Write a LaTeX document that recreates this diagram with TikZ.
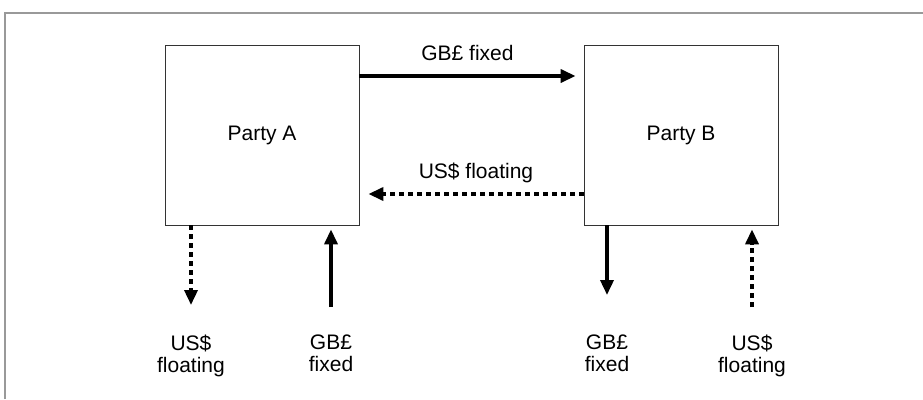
\documentclass[tikz,border=0pt]{standalone}
\usepackage{fontspec}
\setmainfont{Liberation Sans}
\usetikzlibrary{positioning,arrows.meta}

\begin{document}
\begin{tikzpicture}[x=1pt, y=-1pt, node distance = 0pt]
            \tikzstyle{party} = [draw=black!80, line width=0.8pt, minimum width=194pt, minimum height=180pt, font=\fontsize{21}{22}\selectfont]
            \tikzstyle{flow} = [line width=3.5pt, -{Triangle[length=15pt,width=13pt]}]
            \tikzstyle{float} = [flow, dash pattern=on 5pt off 4pt]
            \tikzstyle{lbl} = [inner sep=0pt, align=center, font=\fontsize{21}{22}\selectfont]

            \useasboundingbox (0,0) rectangle (923,399);
            \draw [gray!80, line width=1.2pt] (5,399) -- (5,13) -- (923,13);

            \node [party] (A) at (262,135) {Party A};
            \node [party] (B) at (681,135) {Party B};

            \node [lbl, anchor=north] (A1) at (191,335) {US\$\\floating};
            \node [lbl, anchor=north] (A2) at (331,335) {GB£\\fixed};
            \node [lbl, anchor=north] (B1) at (607,335) {GB£\\fixed};
            \node [lbl, anchor=north] (B2) at (752,335) {US\$\\floating};

            \draw [flow] ([yshift=59pt]A.east) -- ([yshift=59pt,xshift=-8pt]B.west)
                node [lbl, midway, above=14pt] {GB£ fixed};
            \draw [float] ([yshift=-59pt]B.west) -- ([yshift=-59pt,xshift=9pt]A.east)
                node [lbl, midway, above=9pt] {US\$ floating};

            \draw [float, shorten >=30pt] (A1.north |- A.south) -- (A1.north);
            \draw [flow, shorten <=28pt] (A2.north) -- ([yshift=-4pt]A2.north |- A.south);
            \draw [flow, shorten >=40pt] (B1.north |- B.south) -- (B1.north);
            \draw [float, shorten <=28pt] (B2.north) -- ([yshift=-4pt]B2.north |- B.south);
\end{tikzpicture}
\end{document}
